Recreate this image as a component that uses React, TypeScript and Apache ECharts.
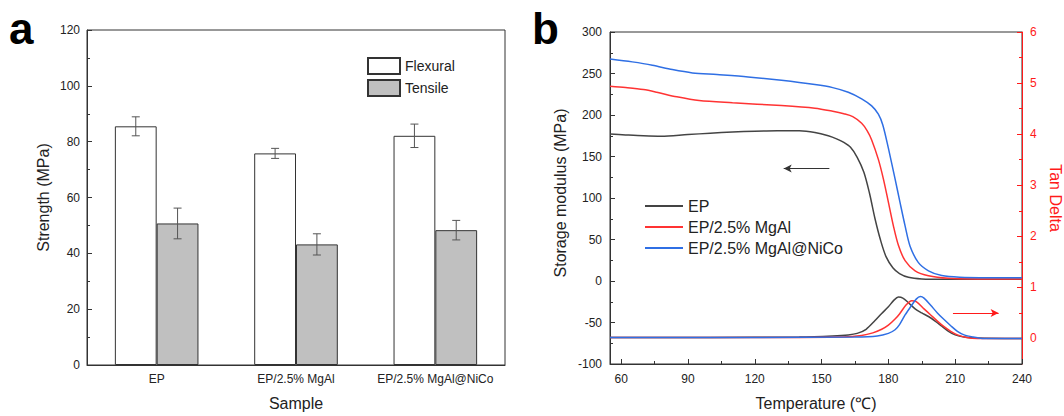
import React, { useEffect, useRef } from "react";
import * as echarts from "echarts";

// ---------- Panel a data ----------
const categories = ["EP", "EP/2.5% MgAl", "EP/2.5% MgAl@NiCo"];
const flexural = [85.5, 75.8, 82.1];
const flexuralErr = [3.4, 1.8, 4.2];
const tensile = [50.7, 43.2, 48.3];
const tensileErr = [5.5, 3.8, 3.5];

// ---------- Panel b data: [temperature, storage modulus (MPa)] ----------
const epStorage = [
  [55, 177], [62, 176], [70, 175], [78, 174.5], [90, 176.5], [100, 178], [110, 179.5],
  [120, 180.5], [130, 181], [140, 181], [147, 179], [153, 175], [157, 171], [160, 167],
  [163, 161], [166, 149], [169, 131], [171.5, 106], [174, 75], [176.5, 49], [179, 29],
  [182, 16], [185, 9], [189, 4.5], [195, 2.5], [205, 2], [220, 2], [240, 2],
];
const mgalStorage = [
  [55, 234.6], [62, 233], [70, 230.6], [76, 227.4], [85, 221.9], [95, 217.4], [110, 214.7],
  [132, 211.4], [147, 208.2], [155, 204.5], [160, 201.5], [164, 198], [168, 190], [170.5, 181],
  [172.5, 170], [175.5, 146.5], [177.8, 122.5], [180, 95], [182.2, 67], [184.5, 43],
  [187.5, 24.5], [192, 12.3], [198, 6.3], [207, 3.2], [220, 2.5], [240, 2.5],
];
const nicoStorage = [
  [55, 267.5], [65, 264], [74, 260], [83, 254.7], [92, 250.7], [103, 248.7], [117, 245.9],
  [132, 241.8], [147, 236.7], [155, 233], [162, 227.4], [168, 219.5], [172.5, 211],
  [175.5, 201], [177.5, 188], [180, 160], [183, 123], [185.2, 95], [187.5, 66.4],
  [189.7, 42.3], [193.4, 22.4], [198, 12.3], [204, 6.5], [212, 4.5], [225, 4], [240, 4],
];

// ---------- Panel b data: [temperature, tan delta] ----------
const epTan = [
  [55, 0.02], [100, 0.02], [140, 0.03], [155, 0.05], [162, 0.07], [166, 0.1], [170, 0.18],
  [174, 0.35], [177, 0.49], [180, 0.62], [182.5, 0.75], [184.5, 0.81], [186.5, 0.79],
  [189, 0.7], [192, 0.58], [195, 0.5], [198, 0.43], [201, 0.34], [204, 0.24], [207, 0.14],
  [210, 0.07], [214, 0.03], [220, 0.01], [240, 0.0],
];
const mgalTan = [
  [55, 0.02], [120, 0.02], [160, 0.03], [168, 0.06], [173, 0.11], [177, 0.18], [180, 0.26],
  [183, 0.38], [185, 0.48], [188, 0.66], [190.5, 0.74], [192.5, 0.72], [196, 0.58],
  [199, 0.46], [202, 0.34], [205, 0.23], [208, 0.14], [211, 0.07], [215, 0.02], [220, 0.0],
  [240, 0.0],
];
const nicoTan = [
  [55, 0.02], [120, 0.02], [165, 0.03], [175, 0.05], [180, 0.1], [183, 0.17], [185, 0.27],
  [187.5, 0.46], [190, 0.62], [192.5, 0.77], [194.4, 0.82], [196, 0.79], [199, 0.65],
  [202, 0.5], [205, 0.37], [208, 0.25], [211, 0.14], [214, 0.07], [218, 0.03], [223, 0.0],
  [240, 0.0],
];

const tempLabels = [60, 90, 120, 150, 180, 210, 240];
const tempMinor = [75, 105, 135, 165, 195, 225];
const tanLabels = [0, 1, 2, 3, 4, 5, 6];
const tanMinor = [0.5, 1.5, 2.5, 3.5, 4.5, 5.5];

const FONT = 'Arial, "Liberation Sans", Helvetica, sans-serif';
const AX = "#333";
const TXT = "#222";
const C_EP = "#444444";
const C_MGAL = "#ff3333";
const C_NICO = "#2f6fe4";
const RED = "#ff1a1a";

export default function App() {
  const ref = useRef<HTMLDivElement>(null);

  useEffect(() => {
    if (!ref.current) return;
    const chart = echarts.init(ref.current, null, { renderer: "svg" });

    const errData: number[][] = [];
    flexural.forEach((v, i) => errData.push([i, v - flexuralErr[i], v + flexuralErr[i], -1]));
    tensile.forEach((v, i) => errData.push([i, v - tensileErr[i], v + tensileErr[i], 1]));

    const lineSeries = (name: string, data: number[][], color: string, yIdx: number, extra: any = {}) => ({
      type: "line",
      name,
      xAxisIndex: 1,
      yAxisIndex: yIdx,
      data,
      smooth: 0.3,
      showSymbol: false,
      symbol: "none",
      lineStyle: { color, width: 1.5 },
      itemStyle: { color },
      emphasis: { disabled: true },
      silent: true,
      ...extra,
    });

    const option: any = {
      animation: false,
      backgroundColor: "#fff",
      textStyle: { fontFamily: FONT },
      grid: [
        { left: 87, top: 30, width: 418, height: 336, show: true, borderColor: AX, borderWidth: 1 },
        { left: 610, top: 32, width: 414, height: 333, show: true, borderColor: AX, borderWidth: 1 },
      ],
      legend: [
        {
          orient: "vertical",
          left: 367,
          top: 57,
          padding: 0,
          icon: "rect",
          itemWidth: 32,
          itemHeight: 16,
          itemGap: 4,
          textStyle: { fontSize: 14, color: TXT, fontFamily: FONT },
          data: ["Flexural", "Tensile"],
          selectedMode: false,
        },
        {
          orient: "vertical",
          left: 645,
          top: 198,
          padding: 0,
          itemWidth: 38,
          itemHeight: 2,
          itemGap: 5,
          icon: "rect",
          textStyle: { fontSize: 16, color: TXT, fontFamily: FONT },
          data: ["EP", "EP/2.5% MgAl", "EP/2.5% MgAl@NiCo"],
          selectedMode: false,
        },
      ],
      xAxis: [
        {
          type: "category",
          gridIndex: 0,
          data: categories,
          axisLine: { onZero: false, lineStyle: { color: AX } },
          axisTick: { show: false },
          axisLabel: { color: TXT, fontSize: 12, margin: 8, interval: 0 },
          name: "Sample",
          nameLocation: "middle",
          nameGap: 30,
          nameTextStyle: { fontSize: 16, color: TXT },
        },
        {
          type: "value",
          gridIndex: 1,
          min: 55,
          max: 240,
          position: "bottom",
          axisLine: { onZero: false, lineStyle: { color: AX } },
          axisTick: { inside: true, length: 5, customValues: tempLabels, lineStyle: { color: AX } },
          axisLabel: { color: TXT, fontSize: 12, margin: 9, customValues: tempLabels },
          splitLine: { show: false },
          name: "Temperature (℃)",
          nameLocation: "middle",
          nameGap: 31,
          nameTextStyle: { fontSize: 16, color: TXT },
        },
        {
          type: "value",
          gridIndex: 1,
          min: 55,
          max: 240,
          position: "bottom",
          offset: 0,
          axisLine: { show: false, onZero: false },
          axisTick: { inside: true, length: 3, customValues: tempMinor, lineStyle: { color: AX } },
          axisLabel: { show: false },
          splitLine: { show: false },
        },
      ],
      yAxis: [
        {
          type: "value",
          gridIndex: 0,
          min: 0,
          max: 120,
          interval: 20,
          axisLine: { show: true, onZero: false, lineStyle: { color: AX } },
          axisTick: { show: true, inside: true, length: 5, lineStyle: { color: AX } },
          minorTick: { show: true, splitNumber: 2, length: 3, lineStyle: { color: AX } },
          axisLabel: { color: TXT, fontSize: 12, margin: 7 },
          splitLine: { show: false },
          name: "Strength (MPa)",
          nameLocation: "middle",
          nameGap: 36,
          nameRotate: 90,
          nameTextStyle: { fontSize: 16, color: TXT },
        },
        {
          type: "value",
          gridIndex: 1,
          min: -100,
          max: 300,
          interval: 50,
          position: "left",
          axisLine: { show: true, onZero: false, lineStyle: { color: AX } },
          axisTick: { show: true, inside: true, length: 5, lineStyle: { color: AX } },
          minorTick: { show: true, splitNumber: 2, length: 3, lineStyle: { color: AX } },
          axisLabel: { color: TXT, fontSize: 12, margin: 8 },
          splitLine: { show: false },
          name: "Storage modulus (MPa)",
          nameLocation: "middle",
          nameGap: 42,
          nameRotate: 90,
          nameTextStyle: { fontSize: 16, color: TXT, padding: [0, 0, 0, 10] },
        },
        {
          type: "value",
          gridIndex: 1,
          min: -0.5,
          max: 6,
          position: "right",
          axisLine: { show: true, onZero: false, lineStyle: { color: RED } },
          axisTick: { show: true, inside: true, length: 5, customValues: tanLabels, lineStyle: { color: RED } },
          axisLabel: { color: RED, fontSize: 12, margin: 8, customValues: tanLabels },
          splitLine: { show: false },
          name: "Tan Delta",
          nameLocation: "middle",
          nameGap: 25,
          nameRotate: -90,
          nameTextStyle: { fontSize: 16, color: RED },
        },
        {
          type: "value",
          gridIndex: 1,
          min: -0.5,
          max: 6,
          position: "right",
          offset: 0,
          axisLine: { show: false, onZero: false },
          axisTick: { show: true, inside: true, length: 3, customValues: tanMinor, lineStyle: { color: RED } },
          axisLabel: { show: false },
          splitLine: { show: false },
        },
      ],
      series: [
        {
          type: "bar",
          name: "Flexural",
          xAxisIndex: 0,
          yAxisIndex: 0,
          data: flexural,
          barWidth: "30%",
          barGap: "0%",
          itemStyle: { color: "#ffffff", borderColor: AX, borderWidth: 1 },
          emphasis: { disabled: true },
          silent: true,
        },
        {
          type: "bar",
          name: "Tensile",
          xAxisIndex: 0,
          yAxisIndex: 0,
          data: tensile,
          barWidth: "30%",
          barGap: "0%",
          itemStyle: { color: "#c0c0c0", borderColor: AX, borderWidth: 1 },
          emphasis: { disabled: true },
          silent: true,
        },
        {
          type: "custom",
          name: "err",
          xAxisIndex: 0,
          yAxisIndex: 0,
          data: errData,
          silent: true,
          z: 10,
          renderItem: (params: any, api: any) => {
            const idx = api.value(0);
            const lo = api.value(1);
            const hi = api.value(2);
            const sign = api.value(3);
            const band = api.size([1, 0])[0];
            const cx = api.coord([idx, 0])[0] + sign * band * 0.15;
            const yLo = api.coord([idx, lo])[1];
            const yHi = api.coord([idx, hi])[1];
            const hw = 4;
            const style = { stroke: "#555", lineWidth: 1 };
            return {
              type: "group",
              children: [
                { type: "line", shape: { x1: cx, y1: yLo, x2: cx, y2: yHi }, style },
                { type: "line", shape: { x1: cx - hw, y1: yLo, x2: cx + hw, y2: yLo }, style },
                { type: "line", shape: { x1: cx - hw, y1: yHi, x2: cx + hw, y2: yHi }, style },
              ],
            };
          },
        },
        lineSeries("EP", epStorage, C_EP, 1, {
          markLine: {
            silent: true,
            symbol: ["none", "arrow"],
            symbolSize: [6, 8],
            label: { show: false },
            lineStyle: { color: "#333", width: 1, type: "solid" },
            emphasis: { disabled: true },
            data: [[{ coord: [153.5, 135.5] }, { coord: [133, 135.5] }]],
          },
        }),
        lineSeries("EP/2.5% MgAl", mgalStorage, C_MGAL, 1),
        lineSeries("EP/2.5% MgAl@NiCo", nicoStorage, C_NICO, 1),
        lineSeries("EP", epTan, C_EP, 2),
        lineSeries("EP/2.5% MgAl", mgalTan, C_MGAL, 2, {
          markLine: {
            silent: true,
            symbol: ["none", "arrow"],
            symbolSize: [6, 8],
            label: { show: false },
            lineStyle: { color: RED, width: 1, type: "solid" },
            emphasis: { disabled: true },
            data: [[{ coord: [209, 0.5] }, { coord: [229.5, 0.5] }]],
          },
        }),
        lineSeries("EP/2.5% MgAl@NiCo", nicoTan, C_NICO, 2),
      ],
      graphic: [
        {
          type: "text",
          left: 9,
          top: 6,
          style: { text: "a", font: `bold 44px ${FONT}`, fill: "#000" },
        },
        {
          type: "text",
          left: 532,
          top: 6,
          style: { text: "b", font: `bold 44px ${FONT}`, fill: "#000" },
        },
      ],
    };

    chart.setOption(option);
    return () => chart.dispose();
  }, []);

  return (
    <div
      ref={ref}
      style={{ position: "fixed", left: 0, top: 0, width: 1064, height: 416, background: "#fff" }}
    />
  );
}
